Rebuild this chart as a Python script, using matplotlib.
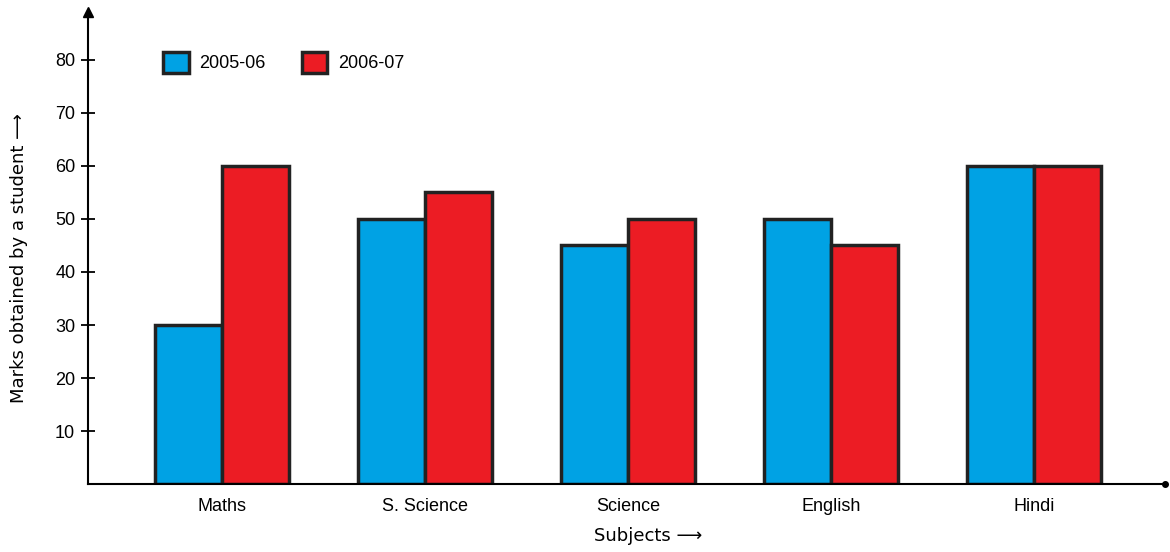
import matplotlib
matplotlib.use("Agg")
import matplotlib.pyplot as plt
import numpy as np

plt.rcParams['font.family'] = ['Liberation Sans', 'DejaVu Sans']

subjects = ['Maths', 'S. Science', 'Science', 'English', 'Hindi']
marks_0506 = [30, 50, 45, 50, 60]
marks_0607 = [60, 55, 50, 45, 60]
years = ['2005-06', '2006-07']
yticks = [10, 20, 30, 40, 50, 60, 70, 80]

blue = '#00A2E4'
red = '#EC1C24'

fig = plt.figure(figsize=(11.7, 5.52), dpi=100)
ax = fig.add_axes([0.075, 0.123, 0.921, 0.855])

x = np.arange(len(subjects))
w = 0.33
ax.bar(x - w / 2, marks_0506, w, color=blue, edgecolor='#222222', linewidth=2.5, label=years[0])
ax.bar(x + w / 2, marks_0607, w, color=red, edgecolor='#222222', linewidth=2.5, label=years[1])

ax.set_xlim(-0.66, 4.645)
ax.set_ylim(0, 89)

for s in ['top', 'right']:
    ax.spines[s].set_visible(False)
ax.spines['left'].set_linewidth(1.5)
ax.spines['bottom'].set_linewidth(1.5)

# arrow heads on the axes
ax.plot(0, 1, '^k', markersize=7, transform=ax.transAxes, clip_on=False)
ax.plot(1, 0, 'ok', markersize=4, transform=ax.transAxes, clip_on=False)

ax.set_yticks(yticks)
ax.set_yticklabels([str(v) for v in yticks], fontsize=13)
ax.tick_params(axis='y', direction='inout', length=10, width=1.3, pad=4)
ax.set_xticks(x)
ax.set_xticklabels(subjects, fontsize=13)
ax.tick_params(axis='x', length=0, pad=10)

ax.set_xlabel('Subjects \u27f6', fontsize=13, family=['DejaVu Sans'])
ax.xaxis.set_label_coords(0.52, -0.09)
ax.set_ylabel('Marks obtained by a student \u27f6', fontsize=13, family=['DejaVu Sans'])
ax.yaxis.set_label_coords(-0.055, 0.48)

ax.legend(loc='upper left', bbox_to_anchor=(0.055, 0.95), ncol=2, frameon=False,
          fontsize=13, handlelength=1.4, handleheight=1.4, handletextpad=0.6,
          columnspacing=2.0)

fig.savefig('out.png', dpi=100)
